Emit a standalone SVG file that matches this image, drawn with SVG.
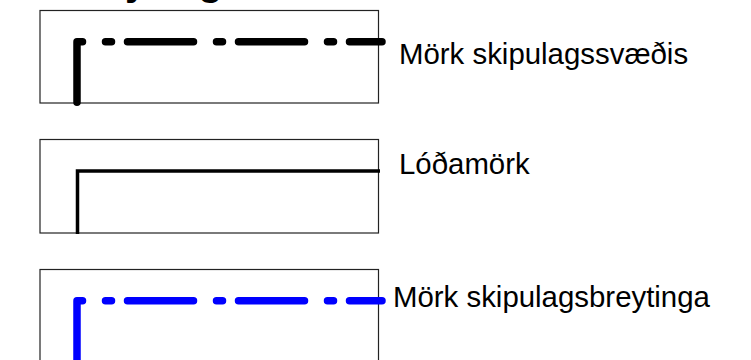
<svg xmlns="http://www.w3.org/2000/svg" width="751" height="360" viewBox="0 0 751 360">
<style>
.box{fill:#fff;stroke:#222;stroke-width:1.2}
.dd{fill:none;stroke-width:7.5;stroke-linecap:round;stroke-linejoin:round;stroke-dasharray:66 23 6 16}
.lbl{font-family:"Liberation Sans",Arial,sans-serif;font-size:29.4px;fill:#000}
</style>
<rect width="751" height="360" fill="#fff"/>
<text x="76" y="-5" font-family="Liberation Sans, Arial, sans-serif" font-size="40" font-weight="bold">Skýringar</text>
<g id="legend1">
<rect class="box" x="40" y="10.5" width="338.5" height="92.5"/>
<text class="lbl" x="399" y="64">Mörk skipulagssvæðis</text>
</g>
<g id="legend2">
<rect class="box" x="40" y="139.5" width="338.5" height="93.5"/>
<text class="lbl" x="399" y="174">Lóðamörk</text>
</g>
<g id="legend3">
<rect class="box" x="40" y="269.5" width="338.5" height="100"/>
<text class="lbl" x="393" y="307">Mörk skipulagsbreytinga</text>
</g>
<g id="connectors">
<path class="dd" stroke="#000" d="M77,102.2 L77,41.7 L382,41.7"/>
<path fill="none" stroke="#000" stroke-width="3.5" d="M77.5,234 L77.5,171 L380,171"/>
<path class="dd" stroke="#0000ff" d="M77,361.2 L77,300.7 L382,300.7"/>
</g>
</svg>
